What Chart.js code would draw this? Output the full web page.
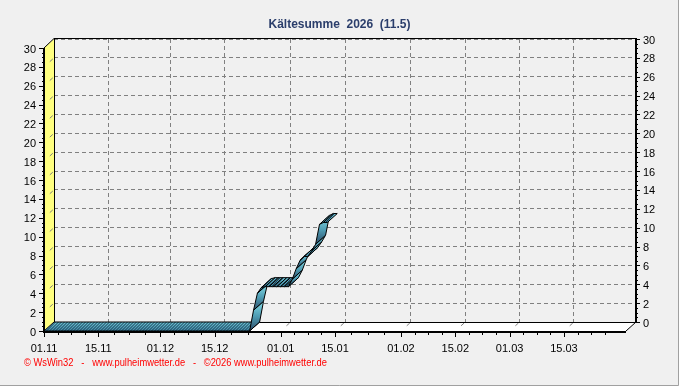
<!DOCTYPE html>
<html><head><meta charset="utf-8">
<script src="https://cdn.jsdelivr.net/npm/chart.js@4/dist/chart.umd.min.js"></script>
<style>html,body{margin:0;padding:0;background:#F0F0F0;overflow:hidden}canvas{display:block}</style>
</head><body>
<canvas id="c" width="679" height="386"></canvas>
<script>
const titleText = 'Kältesumme  2026  (11.5)';
const footerText = '\u00A9 WsWin32   -   www.pulheimwetter.de   -   \u00A92026 www.pulheimwetter.de';

// days since 01.11 and cumulative cold sum
const dayIndex    = [0, 53, 54, 55, 56, 57, 58, 59, 60, 61, 62, 63, 64, 65, 66, 67, 68, 69, 70, 71, 72, 73];
const kaeltesumme = [0, 0, 2.2, 4.0, 4.6, 4.7, 4.7, 4.7, 4.7, 4.7, 4.7, 4.7, 5.5, 6.6, 7.5, 7.9, 7.9, 8.5, 9.2, 11.3, 11.5, 11.5];

const tickDays   = [0, 14, 30, 44, 61, 75, 92, 106, 120, 134];
const tickLabels = ['01.11','15.11','01.12','15.12','01.01','15.01','01.02','15.02','01.03','15.03'];
const xMin = 0, xMax = 150;
const yMin = 0, yMax = 30, yStep = 2;

const DX = 10, DY = 9;
const FONT = 'Liberation Sans, Arial, sans-serif';

function quadPath(ctx, q) {
  ctx.beginPath();
  ctx.moveTo(q[0][0], q[0][1]);
  for (let i = 1; i < q.length; i++) ctx.lineTo(q[i][0], q[i][1]);
  ctx.closePath();
}

const frame3d = {
  id: 'frame3d',
  beforeDraw(chart) {
    const ctx = chart.ctx;
    ctx.save();
    ctx.fillStyle = '#F0F0F0';
    ctx.fillRect(0, 0, chart.width, chart.height);
    ctx.strokeStyle = '#A0A0A0';
    ctx.lineWidth = 1;
    ctx.beginPath();
    ctx.moveTo(0, chart.height - 0.5); ctx.lineTo(chart.width - 0.5, chart.height - 0.5);
    ctx.lineTo(chart.width - 0.5, 0);
    ctx.stroke();
    ctx.restore();
  },
  beforeDatasetsDraw(chart) {
    const ctx = chart.ctx;
    const a = chart.chartArea;
    const xs = chart.scales.x, ys = chart.scales.y;
    ctx.save();
    // left wall
    ctx.fillStyle = '#FFFF80';
    quadPath(ctx, [[a.left - DX, a.bottom + DY], [a.left - DX, a.top + DY], [a.left, a.top], [a.left, a.bottom]]);
    ctx.fill();
    // floor
    ctx.fillStyle = '#FFFFFF';
    quadPath(ctx, [[a.left - DX, a.bottom + DY], [a.right - DX, a.bottom + DY], [a.right, a.bottom], [a.left, a.bottom]]);
    ctx.fill();
    // short grid continuations on wall and floor
    ctx.strokeStyle = '#808080';
    ctx.lineWidth = 1;
    ctx.beginPath();
    const t0 = 0.12, t1 = 0.42;
    for (let v = yMin + yStep; v < yMax; v += yStep) {
      const y = ys.getPixelForValue(v);
      ctx.moveTo(a.left - DX * t0, y + DY * t0); ctx.lineTo(a.left - DX * t1, y + DY * t1);
    }
    for (let i = 1; i < tickDays.length; i++) {
      const x = xs.getPixelForValue(tickDays[i]);
      ctx.moveTo(x - DX * t0, a.bottom + DY * t0); ctx.lineTo(x - DX * t1, a.bottom + DY * t1);
    }
    ctx.stroke();
    // outlines
    ctx.strokeStyle = '#000';
    ctx.lineWidth = 1;
    ctx.beginPath();
    ctx.moveTo(a.left - DX, a.top + DY); ctx.lineTo(a.left, a.top - 0.5);
    ctx.lineTo(a.right, a.top - 0.5);
    ctx.moveTo(a.left + 0.5, a.top); ctx.lineTo(a.left + 0.5, a.bottom);
    ctx.moveTo(a.left, a.bottom + 0.5); ctx.lineTo(a.right, a.bottom + 0.5);
    ctx.moveTo(a.right - DX, a.bottom + DY); ctx.lineTo(a.right, a.bottom);
    ctx.stroke();
    ctx.lineWidth = 2;
    ctx.beginPath();
    ctx.moveTo(a.right, a.top - 1); ctx.lineTo(a.right, a.bottom + 1);
    ctx.moveTo(a.left - DX, a.top + DY); ctx.lineTo(a.left - DX, a.bottom + DY + 1);
    ctx.lineTo(a.right - DX, a.bottom + DY + 1);
    ctx.stroke();
    // ticks: left front axis and right axis
    ctx.lineWidth = 1;
    ctx.beginPath();
    for (let k = 0; k <= (yMax - yMin) * 2; k++) {
      const v = yMin + k / 2;
      const y = Math.round(ys.getPixelForValue(v) + DY) + 0.5;
      const major = (k % 4 === 0);
      ctx.moveTo(a.left - DX - (major ? 5 : 2), y); ctx.lineTo(a.left - DX, y);
      const yr = Math.round(ys.getPixelForValue(v)) + 0.5;
      ctx.moveTo(a.right, yr); ctx.lineTo(a.right + (major ? 4 : 2), yr);
    }
    // bottom front ticks
    const bt = [];
    for (let i = 0; i < tickDays.length; i++) {
      const d0 = tickDays[i];
      const d1 = i + 1 < tickDays.length ? tickDays[i + 1] : d0 + 14;
      bt.push([d0, true]);
      for (let q = 1; q < 4; q++) bt.push([d0 + (d1 - d0) * q / 4, false]);
    }
    const yb = a.bottom + DY + 2;
    bt.forEach(([d, major]) => {
      const x = Math.round(xs.getPixelForValue(d) - DX) + 0.5;
      ctx.moveTo(x, yb); ctx.lineTo(x, yb + (major ? 4 : 2));
    });
    ctx.stroke();
    ctx.restore();
  },
  afterDatasetsDraw(chart) {
    const ctx = chart.ctx;
    const pts = chart.getDatasetMeta(0).data;
    ctx.save();
    for (let i = 0; i < pts.length - 1; i++) {
      const p = pts[i], n = pts[i + 1];
      const q = [[p.x, p.y], [n.x, n.y], [n.x - DX, n.y + DY], [p.x - DX, p.y + DY]];
      const dx = n.x - p.x, dy = n.y - p.y;
      const topSide = dx * DY + dy * DX >= 0;
      const minY = Math.min(...q.map(t => t[1])), maxY = Math.max(...q.map(t => t[1]));
      const minX = Math.min(...q.map(t => t[0])), maxX = Math.max(...q.map(t => t[0]));
      quadPath(ctx, q);
      if (topSide) {
        const g = ctx.createLinearGradient(0, minY, 0, maxY);
        g.addColorStop(0, '#6FCAD8');
        g.addColorStop(1, '#3E86A0');
        ctx.fillStyle = g;
        ctx.fill();
        ctx.save();
        ctx.clip();
        ctx.strokeStyle = '#173550';
        ctx.lineWidth = 1;
        ctx.beginPath();
        const h = maxY - minY;
        const start = Math.floor((minX - h - 4) / 3) * 3 + 0.5;
        for (let x = start; x < maxX + 3; x += 3) {
          ctx.moveTo(x, maxY + 1); ctx.lineTo(x + h + 2, minY - 1);
        }
        ctx.stroke();
        ctx.restore();
      } else {
        const g = ctx.createLinearGradient(0, minY, 0, maxY);
        g.addColorStop(0, '#86DCE6');
        g.addColorStop(0.5, '#4F9DB4');
        g.addColorStop(1, '#2C4C68');
        ctx.fillStyle = g;
        ctx.fill();
      }
      quadPath(ctx, q);
      ctx.strokeStyle = '#000';
      ctx.lineWidth = 1;
      ctx.stroke();
    }
    ctx.restore();
  },
  afterDraw(chart) {
    const ctx = chart.ctx;
    ctx.save();
    ctx.font = '11px ' + FONT;
    ctx.fillStyle = '#FF0000';
    ctx.textBaseline = 'middle';
    ctx.textAlign = 'left';
    ctx.fillText(footerText, 24, 363, 303);
    ctx.restore();
  }
};

new Chart(document.getElementById('c'), {
  type: 'line',
  data: {
    datasets: [{
      label: 'Kältesumme',
      data: dayIndex.map((d, i) => ({ x: d, y: kaeltesumme[i] })),
      borderColor: 'rgba(0,0,0,0)',
      borderWidth: 0,
      pointRadius: 0,
      yAxisID: 'y',
      xAxisID: 'x'
    }]
  },
  options: {
    responsive: false,
    animation: false,
    events: [],
    layout: { padding: 0 },
    plugins: {
      legend: { display: false },
      tooltip: { enabled: false },
      title: {
        display: true,
        text: titleText,
        color: '#2B3E6B',
        font: { family: FONT, size: 12, weight: 'bold', lineHeight: 1.2 },
        padding: { top: 17, bottom: 7.6 }
      }
    },
    scales: {
      x: {
        type: 'linear', position: 'bottom', min: xMin, max: xMax,
        afterBuildTicks: s => { s.ticks = tickDays.map(v => ({ value: v })); },
        afterFit: s => { s.height = 64; },
        ticks: {
          autoSkip: false, maxRotation: 0, minRotation: 0, padding: 20,
          labelOffset: -DX, color: '#000', font: { family: FONT, size: 11 },
          callback: (v, i) => tickLabels[i]
        },
        grid: { color: '#808080', lineWidth: 1, drawTicks: false },
        border: { display: false, dash: [4, 3] }
      },
      y: {
        type: 'linear', position: 'right', min: yMin, max: yMax,
        afterFit: s => { s.width = 43; },
        ticks: { stepSize: yStep, padding: 7, labelOffset: 1.5, color: '#000', font: { family: FONT, size: 11 } },
        grid: { color: '#808080', lineWidth: 1, drawTicks: false },
        border: { display: false, dash: [4, 3] }
      },
      y2: {
        type: 'linear', position: 'left', min: yMin, max: yMax,
        afterFit: s => { s.width = 54; },
        ticks: { stepSize: yStep, padding: 18, labelOffset: DY + 1.5, color: '#000', font: { family: FONT, size: 11 } },
        grid: { display: false, drawTicks: false },
        border: { display: false }
      }
    }
  },
  plugins: [frame3d]
});
</script>
</body></html>
